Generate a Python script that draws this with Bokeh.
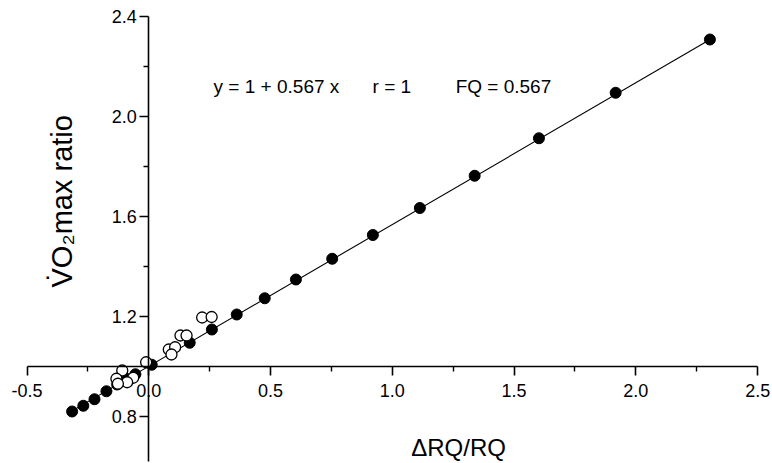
from bokeh.plotting import figure
from bokeh.models import LinearAxis, FixedTicker, Label, Range1d, ColumnDataSource
from bokeh.embed import file_html
from bokeh.resources import INLINE
import math

# ---- data ----
filled_x = [-0.315, -0.269, -0.223, -0.174, -0.130, -0.090, -0.055, 0.012,
            0.168, 0.259, 0.361, 0.476, 0.604, 0.753, 0.920, 1.113, 1.338, 1.602, 1.917, 2.304]
filled_y = [0.819, 0.842, 0.868, 0.900, 0.927, 0.949, 0.968, 1.006,
            1.094, 1.147, 1.207, 1.272, 1.347, 1.430, 1.525, 1.633, 1.762, 1.912, 2.094, 2.307]

open_x = [0.219, 0.258, 0.130, 0.155, 0.082, 0.108, 0.093, -0.011,
          -0.109, -0.133, -0.064, -0.089, -0.127]
open_y = [1.195, 1.197, 1.123, 1.123, 1.067, 1.076, 1.047, 1.016,
          0.983, 0.950, 0.954, 0.936, 0.930]

fit_intercept = 1.0
fit_slope = 0.567
fit_x = [-0.32, 2.31]
fit_y = [fit_intercept + fit_slope * v for v in fit_x]

x_ticks = [-0.5, 0.0, 0.5, 1.0, 1.5, 2.0, 2.5]
x_minor = [-0.25, 0.25, 0.75, 1.25, 1.75, 2.25]
x_tick_labels = {-0.5: "-0.5", 0.0: "0.0", 0.5: "0.5", 1.0: "1.0", 1.5: "1.5", 2.0: "2.0", 2.5: "2.5"}
y_ticks = [0.8, 1.2, 1.6, 2.0, 2.4]
y_minor = [1.4, 1.8, 2.2]
y_tick_labels = {0.8: "0.8", 1.2: "1.2", 1.6: "1.6", 2.0: "2.0", 2.4: "2.4"}

equation_text = "y = 1 + 0.567 x"
r_text = "r = 1"
fq_text = "FQ = 0.567"
x_title = "\u0394RQ/RQ"
y_title = "V\u0307O\u2082max ratio"

FONT = "Liberation Sans"

p = figure(width=772, height=463, output_backend="svg", toolbar_location=None,
           x_range=Range1d(-0.609, 2.561), y_range=Range1d(0.611, 2.463),
           x_axis_location=None, y_axis_location=None, min_border=0)
p.outline_line_color = None
p.xgrid.visible = False
p.ygrid.visible = False
p.background_fill_color = "white"


def style_axis(ax):
    ax.axis_line_width = 1.6
    ax.major_tick_line_width = 1.6
    ax.minor_tick_line_width = 1.4
    ax.major_tick_in = 0
    ax.major_tick_out = 9
    ax.minor_tick_in = 0
    ax.minor_tick_out = 5
    ax.major_label_text_font = FONT
    ax.major_label_text_font_size = "18px"
    ax.major_label_text_color = "black"
    ax.axis_line_color = "black"
    ax.major_tick_line_color = "black"
    ax.minor_tick_line_color = "black"


xaxis = LinearAxis(fixed_location=1.0,
                   ticker=FixedTicker(ticks=x_ticks, minor_ticks=x_minor),
                   bounds=(-0.5, 2.5), major_label_overrides=x_tick_labels)
style_axis(xaxis)
xaxis.major_label_standoff = 9
p.add_layout(xaxis, "below")

yaxis = LinearAxis(fixed_location=0.0,
                   ticker=FixedTicker(ticks=y_ticks, minor_ticks=y_minor),
                   bounds=(0.62, 2.4), major_label_overrides=y_tick_labels)
style_axis(yaxis)
yaxis.major_label_standoff = 3
p.add_layout(yaxis, "left")

# regression line
p.line(fit_x, fit_y, line_color="black", line_width=1.1)

src_f = ColumnDataSource(dict(x=filled_x, y=filled_y))
src_o = ColumnDataSource(dict(x=open_x, y=open_y))
p.scatter("x", "y", source=src_f, size=11, marker="circle",
          fill_color="black", line_color="black")
p.scatter("x", "y", source=src_o, size=11, marker="circle",
          fill_color="white", line_color="black", line_width=1.3)

# annotations
for txt, xx in [(equation_text, 0.266), (r_text, 0.919), (fq_text, 1.26)]:
    p.add_layout(Label(x=xx, y=2.119, text=txt, text_font=FONT, text_font_size="19px",
                       text_baseline="alphabetic", text_align="left", text_color="black"))

p.add_layout(Label(x=1.272, y=0.675, text=x_title, text_font=FONT, text_font_size="24px",
                   text_baseline="alphabetic", text_align="center", text_color="black"))
p.add_layout(Label(x=-0.3585, y=1.315, text=y_title, text_font=FONT, text_font_size="29px",
                   text_baseline="middle", text_align="left", angle=math.pi / 2,
                   text_color="black"))

open("out.html", "w").write(file_html(p, INLINE))
